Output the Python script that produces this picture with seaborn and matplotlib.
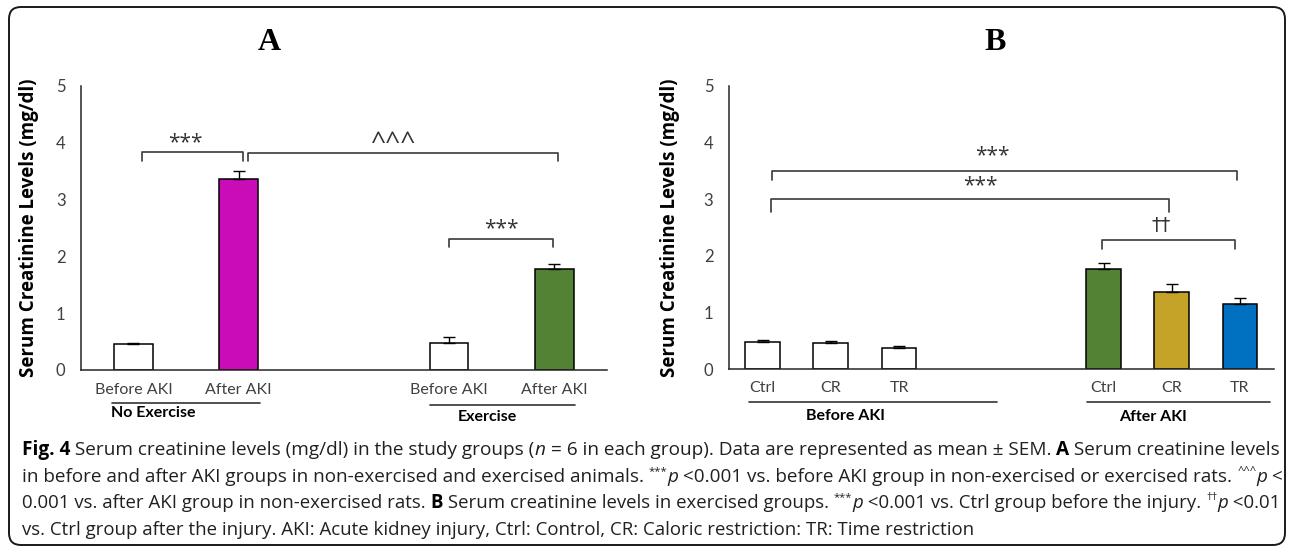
import numpy as np
import pandas as pd
import matplotlib
matplotlib.use("Agg")
import matplotlib.pyplot as plt
import seaborn as sns
from matplotlib.patches import FancyBboxPatch
from matplotlib.transforms import IdentityTransform, blended_transform_factory

# ---------------- data ----------------
A_tick_labels = ["Before AKI", "After AKI", "Before AKI", "After AKI"]
A_slots = [0, 1, 3, 4]
A_means = [0.46, 3.37, 0.48, 1.77]
A_sem = [0.02, 0.14, 0.10, 0.10]
A_colors = ["#FFFFFF", "#C90CB8", "#FFFFFF", "#548235"]
A_groups = ["No Exercise", "Exercise"]

B_tick_labels = ["Ctrl", "CR", "TR", "Ctrl", "CR", "TR"]
B_slots = [0, 1, 2, 5, 6, 7]
B_means = [0.48, 0.465, 0.365, 1.77, 1.355, 1.155]
B_sem = [0.035, 0.035, 0.04, 0.10, 0.145, 0.105]
B_colors = ["#FFFFFF", "#FFFFFF", "#FFFFFF", "#548235", "#C5A228", "#0070C0"]
B_groups = ["Before AKI", "After AKI"]

# significance brackets: (x1, x2, y_top, y_end, label, text_x, text_y)
A_brackets = [
    (0.08, 1.04, 3.83, 3.68, "***", 0.49, 4.01),
    (1.09, 4.03, 3.815, 3.68, "^^^", 2.47, 3.87),
    (3.00, 3.99, 2.31, 2.16, "***", 3.50, 2.48),
]
B_brackets = [
    (0.13, 6.96, 3.50, 3.34, "***", 3.37, 3.76),
    (0.12, 5.96, 3.00, 2.78, "***", 3.19, 3.24),
    (4.98, 6.93, 2.28, 2.12, "††", 5.84, 2.54),
]

# caption fragments: (text, style) with style n=normal, b=bold, i=italic, s=superscript
caption_lines = [
    [("Fig. 4", "b"), (" Serum creatinine levels (mg/dl) in the study groups (", "n"), ("n", "i"),
     (" = 6 in each group). Data are represented as mean ± SEM. ", "n"), ("A", "b"),
     (" Serum creatinine levels", "n")],
    [("in before and after AKI groups in non-exercised and exercised animals. ", "n"), ("***", "s"),
     ("p", "i"), (" <0.001 vs. before AKI group in non-exercised or exercised rats. ", "n"),
     ("^^^", "s"), ("p", "i"), (" <", "n")],
    [("0.001 vs. after AKI group in non-exercised rats. ", "n"), ("B", "b"),
     (" Serum creatinine levels in exercised groups. ", "n"), ("***", "s"), ("p", "i"),
     (" <0.001 vs. Ctrl group before the injury. ", "n"), ("††", "s"), ("p", "i"), (" <0.01", "n")],
    [("vs. Ctrl group after the injury. AKI: Acute kidney injury, Ctrl: Control, CR: Caloric restriction: TR: Time restriction", "n")],
]

# ---------------- style ----------------
sns.set_theme(style="white")
plt.rcParams["font.family"] = ["Lato", "DejaVu Sans"]

W, H = 1292, 548
fig = plt.figure(figsize=(W / 100, H / 100), dpi=100)


def fx(px):
    return px / W


def fy(py):
    return 1 - py / H


axA = fig.add_axes([fx(80.8), fy(370), fx(607) - fx(80.8), fy(86) - fy(370)])
axB = fig.add_axes([fx(728.6), fy(369), fx(1274) - fx(728.6), fy(86) - fy(369)])

TEXT_GRAY = "#404040"
LINE = "#262626"


def draw_panel(ax, slots, means, sems, colors, labels, width, groups, group_spans,
               group_text, brackets, title, title_x, ylab_x):
    df = pd.DataFrame({"slot": slots, "mean": means,
                       "key": [f"k{i}" for i in range(len(slots))]})
    sns.barplot(data=df, x="slot", y="mean", hue="key",
                palette=dict(zip(df["key"], colors)), native_scale=True,
                width=width, saturation=1, edgecolor="black", linewidth=1.1,
                errorbar=None, legend=False, ax=ax, zorder=2)
    ax.errorbar(slots, means, yerr=[np.zeros(len(means)), sems], fmt="none",
                ecolor="black", elinewidth=1, capsize=4.5, capthick=1, zorder=3)
    ax.set_xlim(-0.5, max(slots) + 0.5)
    ax.set_ylim(0, 5)
    ax.set_yticks([0, 1, 2, 3, 4, 5])
    ax.set_yticklabels(["0", "1", "2", "3", "4", "5"])
    ax.set_xticks(slots)
    ax.set_xticklabels(labels)
    ax.set_xlabel("")
    ax.set_ylabel("Serum Creatinine Levels (mg/dl)", family="Open Sans",
                  fontweight="bold", fontsize=13.5, color="black")
    ax.yaxis.set_label_coords(ylab_x, 0.5)
    ax.tick_params(axis="x", length=0, pad=9, labelsize=11.5, colors=TEXT_GRAY)
    ax.tick_params(axis="y", length=0, pad=11, labelsize=12, colors=TEXT_GRAY)
    for s in ["top", "right"]:
        ax.spines[s].set_visible(False)
    for s in ["left", "bottom"]:
        ax.spines[s].set_color(LINE)
        ax.spines[s].set_linewidth(1.1)
    ax.set_facecolor("none")

    trans = blended_transform_factory(ax.transData, fig.transFigure)
    for g, (x1, x2, ypx), (tx, typx) in zip(groups, group_spans, group_text):
        ax.plot([x1, x2], [fy(ypx), fy(ypx)], transform=trans, clip_on=False,
                color="#333333", lw=1.2)
        ax.text(tx, fy(typx), g, transform=trans, ha="center", va="center",
                fontweight="bold", fontsize=11.5, color="black")

    for x1, x2, yt, ye, lab, tx, ty in brackets:
        ax.plot([x1, x1, x2, x2], [ye, yt, yt, ye], color="#3a3a3a", lw=1.2,
                clip_on=False, zorder=4)
        if lab == "††":
            ax.text(tx, ty, lab, ha="center", va="center", fontsize=14,
                    color="#333333", family=["DejaVu Sans"])
        elif lab == "^^^":
            ax.text(tx, ty, lab, ha="center", va="baseline", fontsize=19,
                    color="#333333", family=["Open Sans"])
        else:
            ax.text(tx, ty, lab, ha="center", va="center", fontsize=15,
                    color="#333333", family=["Open Sans"])

    fig.text(fx(title_x), fy(42), title, ha="center", va="center",
             family="Liberation Serif", fontweight="bold", fontsize=23,
             color="black")


draw_panel(axA, A_slots, A_means, A_sem, A_colors, A_tick_labels, 0.365,
           A_groups, [(-0.2, 1.2, 403), (2.82, 4.2, 405)],
           [(0.19, 413), (3.36, 417)], A_brackets, "A", 269, -0.08)
draw_panel(axB, B_slots, B_means, B_sem, B_colors, B_tick_labels, 0.51,
           B_groups, [(-0.195, 3.44, 402), (4.75, 7.44, 402)],
           [(1.21, 416), (5.73, 417)], B_brackets, "B", 995, -0.09)

# ---------------- caption (rich text, laid out fragment by fragment) ----------------
renderer = fig.canvas.get_renderer()
CAP_COLOR = "#231F20"


def line_artists(frags, x0, base_px, fs):
    arts = []
    x = x0
    for txt, st in frags:
        kw = dict(family=["Open Sans", "DejaVu Sans"], color=CAP_COLOR,
                  va="baseline", ha="left", transform=IdentityTransform())
        size = fs
        y = H - base_px
        if st == "b":
            kw["fontweight"] = "bold"
            kw["color"] = "black"
        elif st == "i":
            kw["style"] = "italic"
        elif st == "s":
            size = fs * 0.6
            y += fs * 100 / 72 * 0.42
        t = fig.text(x, y, txt, fontsize=size, **kw)
        w = t.get_window_extent(renderer).width
        x += w
        arts.append(t)
    return arts, x - x0


TARGET = 1252
X0 = 22
sizes = []
for i, frags in enumerate(caption_lines):
    arts, w = line_artists(frags, X0, 455 + 26.6 * i, 12)
    for a in arts:
        a.remove()
    sizes.append(12 * TARGET / w)
last_fs = min(sizes[:3])
for i, frags in enumerate(caption_lines):
    fs = sizes[i] if i < 3 else last_fs
    line_artists(frags, X0, 455 + 26.6 * i, fs)

# rounded frame
frame = FancyBboxPatch((9, 3), 1276, 538,
                       boxstyle="round,pad=0,rounding_size=12",
                       transform=IdentityTransform(), fill=False,
                       edgecolor="#1a1a1a", linewidth=1.4)
fig.add_artist(frame)

fig.savefig("out.png", dpi=100, facecolor="white")
